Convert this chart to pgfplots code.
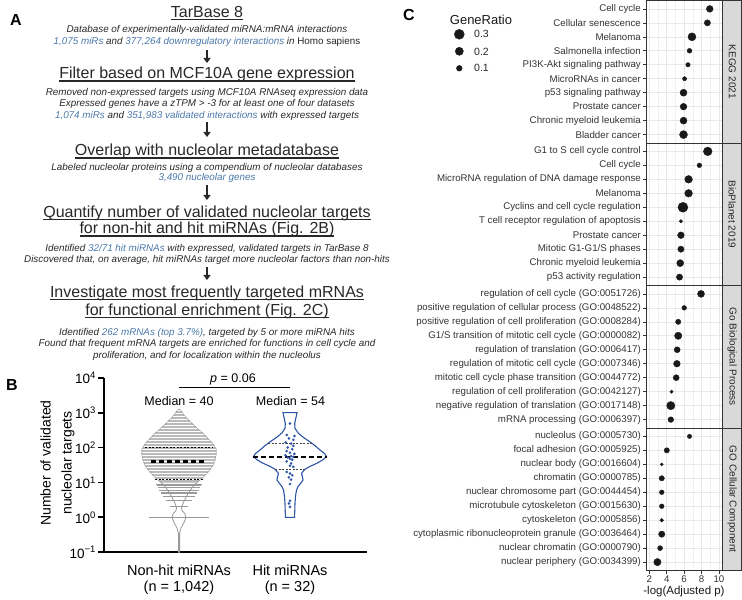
\documentclass[border=0pt]{standalone}
\usepackage{pgfplots}
\pgfplotsset{compat=1.18}
\usepackage{pgfplotstable}
\usepackage{fontspec}
\setmainfont{Liberation Sans}
\setsansfont{Liberation Sans}
\usetikzlibrary{arrows.meta,patterns}
\definecolor{blA}{RGB}{74,120,170}
\definecolor{txtA}{RGB}{40,40,40}
\definecolor{hitblue}{RGB}{45,85,165}
\newcommand\fs[1]{\fontsize{#1}{#1}\selectfont}
\newcommand\myul[1]{\leavevmode\setbox0=\hbox{#1}\rlap{\vrule width\wd0 height -1.6pt depth 2.8pt}\box0}
\newcommand\hd[2]{\node[anchor=base, text=txtA, font=\fs{16}, inner sep=0pt] at (207pt,{600pt-#1pt-5.8pt}) {\myul{#2}};}
\newcommand\tl[2]{\node[anchor=base, text=txtA, font=\fs{9.85}\itshape, inner sep=0pt] at (207pt,{600pt-#1pt-3.5pt}) {#2};}
\newcommand\arr[2]{\draw[line width=1.6pt, txtA, -{Triangle[width=7pt,length=5pt]}] (207pt,{600pt-#1pt}) -- (207pt,{600pt-#2pt});}
\newcommand\cfont{\fontsize{9.7}{10}\selectfont}

\pgfplotstableread{
y x r
1 8.94 0.14
2 8.67 0.116
3 6.90 0.193
4 6.62 0.07
5 6.44 0.058
6 6.05 0.051
7 5.93 0.148
8 5.93 0.136
9 5.93 0.148
10 5.93 0.193
}\kegg
\pgfplotstableread{
y x r
1 8.71 0.228
2 7.75 0.066
3 6.51 0.178
4 6.51 0.178
5 5.86 0.30
6 5.63 0.033
7 5.63 0.134
8 5.63 0.12
9 5.55 0.148
10 5.47 0.12
}\bioplanet
\pgfplotstableread{
y x r
1 7.94 0.148
2 6.01 0.066
3 5.32 0.085
4 5.32 0.161
5 5.20 0.109
6 5.17 0.134
7 5.09 0.109
8 4.55 0.033
9 4.47 0.208
10 4.47 0.097
}\gobp
\pgfplotstableread{
y x r
1 6.62 0.056
2 4.01 0.085
3 3.43 0.027
4 3.43 0.085
5 3.43 0.066
6 3.43 0.066
7 3.43 0.041
8 3.43 0.12
9 3.24 0.075
10 2.93 0.161
}\gocc

\pgfplotsset{
 dots/.style={scatter, only marks, mark=*,
   scatter/use mapped color={draw=black!90, fill=black!90},
   visualization depends on={9.1*sqrt(\thisrow{r}) \as \msz},
   scatter/@pre marker code/.append style={/tikz/mark size=\msz}},
 cpanel/.style={
  scale only axis, width=76.7pt, height=142.5pt, anchor=north west,
  xmin=1.62, xmax=10.43, ymin=0.4, ymax=10.6, y dir=reverse,
  xtick={2,4,6,8,10}, minor xtick={3,5,7,9}, ytick={1,...,10},
  xmajorgrids, xminorgrids, ymajorgrids,
  major grid style={black!9, line width=0.6pt},
  minor grid style={black!6, line width=0.35pt},
  axis line style={black!80, line width=0.7pt},
  tick align=outside, major tick length=3.5pt, minor tick length=0pt,
  tick style={black!80, line width=0.6pt},
  xtick pos=bottom, ytick pos=left,
  yticklabel style={font=\cfont, text=black!80, inner sep=1.5pt},
  xticklabel style={font=\cfont, text=black!80, inner sep=1.5pt},
 },
 notx/.style={xticklabels={}, xtick style={draw=none}},
}

\begin{document}
\begin{tikzpicture}
\useasboundingbox (0pt,0pt) rectangle (742pt,600pt);

% ---------------- Panel A ----------------
\node[font=\bfseries\fs{16}, anchor=center] at (16pt,580pt) {A};
\hd{11.7}{TarBase 8}
\tl{29.3}{Database of experimentally-validated miRNA:mRNA interactions}
\tl{41}{{\color{blA}1,075 miRs} and {\color{blA}377,264 downregulatory interactions} in \upshape Homo sapiens}
\arr{50}{63}
\hd{73}{Filter based on MCF10A gene expression}
\tl{91.7}{Removed non-expressed targets using MCF10A RNAseq expression data}
\tl{103}{Expressed genes have a zTPM > -3 for at least one of four datasets}
\tl{115}{{\color{blA}1,074 miRs} and {\color{blA}351,983 validated interactions} with expressed targets}
\arr{122}{137}
\hd{150}{Overlap with nucleolar metadatabase}
\tl{166.7}{Labeled nucleolar proteins using a compendium of nucleolar databases}
\tl{177.5}{{\color{blA}3,490 nucleolar genes}}
\arr{185}{200}
\hd{211.7}{Quantify number of validated nucleolar targets}
\hd{228}{for non-hit and hit miRNAs (Fig. 2B)}
\tl{248}{Identified {\color{blA}32/71 hit miRNAs} with expressed, validated targets in TarBase 8}
\tl{259}{Discovered that, on average, hit miRNAs target more nucleolar factors than non-hits}
\arr{267}{280}
\hd{291.7}{Investigate most frequently targeted mRNAs}
\hd{309.5}{for functional enrichment (Fig. 2C)}
\tl{331.7}{Identified {\color{blA}262 mRNAs (top 3.7\%)}, targeted by 5 or more miRNA hits}
\tl{343}{Found that frequent mRNA targets are enriched for functions in cell cycle and}
\tl{355}{proliferation, and for localization within the nucleolus}

% ---------------- Panel B ----------------
\node[font=\bfseries\fs{16}, anchor=center] at (12pt,215pt) {B};
\node[rotate=90, align=center, font=\fontsize{14}{21}\selectfont] at (57.5pt,137pt) {Number of validated\\nucleolar targets};
\begin{axis}[at={(104pt,47.7pt)}, anchor=south west, scale only axis, width=263pt, height=174.6pt,
  ymode=log, ymin=0.1, ymax=10000, xmin=0.3243, xmax=2.6937,
  axis x line=bottom, axis y line=left, axis line style={-, line width=1.8pt, black},
  ytick={0.1,1,10,100,1000,10000},
  yticklabels={10\textsuperscript{−1},10\textsuperscript{0},10\textsuperscript{1},10\textsuperscript{2},10\textsuperscript{3},10\textsuperscript{4}},
  yminorticks=false,
  tick align=outside, major tick length=6pt, ytick style={line width=1.8pt, black},
  xtick={1,2}, xticklabels={{Non-hit miRNAs\\(n = 1,042)},{Hit miRNAs\\(n = 32)}},
  xtick style={draw=none},
  xticklabel style={align=center, font=\fontsize{14.5}{16}\selectfont, yshift=-3pt},
  yticklabel style={font=\fs{13.5}, inner sep=2pt},
  clip=false, unbounded coords=jump]
% non-hit violin outline
\addplot[draw=black!40, fill=white, line width=0.8pt] coordinates {
(1.0054,0.1) (1.0054,0.3548) (1.018,0.5012) (1.045,0.7079) (1.063,1) (1.054,1.2589) (1.027,1.5849) (1.0225,1.9055) (1.036,2.5119) (1.0586,3.5481) (1.0856,5.0119) (1.117,7.0795) (1.162,10) (1.216,14.125) (1.261,19.953) (1.297,28.184) (1.32,39.811) (1.333,63.096) (1.333,89.125) (1.306,125.89) (1.261,177.83) (1.216,251.19) (1.162,354.81) (1.1126,501.19) (1.063,707.95) (1.0315,954.99) (1.018,1122) (1,1258.9)
(0.982,1122) (0.9685,954.99) (0.937,707.95) (0.8874,501.19) (0.838,354.81) (0.784,251.19) (0.739,177.83) (0.694,125.89) (0.667,89.125) (0.667,63.096) (0.68,39.811) (0.703,28.184) (0.739,19.953) (0.784,14.125) (0.838,10) (0.883,7.0795) (0.9144,5.0119) (0.9414,3.5481) (0.964,2.5119) (0.9775,1.9055) (0.973,1.5849) (0.946,1.2589) (0.937,1) (0.955,0.7079) (0.982,0.5012) (0.9946,0.3548) (0.9946,0.1)} -- cycle;
% dense beeswarm region
\addplot[draw=black!35, fill=black!27, line width=0.8pt] coordinates {
(1.162,10) (1.216,14.125) (1.261,19.953) (1.297,28.184) (1.32,39.811) (1.333,63.096) (1.333,89.125) (1.306,125.89) (1.261,177.83) (1.216,251.19) (1.162,354.81) (1.1126,501.19) (1.063,707.95) (1.0315,954.99) (1.018,1122) (1,1258.9)
(0.982,1122) (0.9685,954.99) (0.937,707.95) (0.8874,501.19) (0.838,354.81) (0.784,251.19) (0.739,177.83) (0.694,125.89) (0.667,89.125) (0.667,63.096) (0.68,39.811) (0.703,28.184) (0.739,19.953) (0.784,14.125) (0.838,10)} -- cycle;
\addplot[draw=none, pattern=horizontal lines, pattern color=white] coordinates {
(1.162,10) (1.216,14.125) (1.261,19.953) (1.297,28.184) (1.32,39.811) (1.333,63.096) (1.333,89.125) (1.306,125.89) (1.261,177.83) (1.216,251.19) (1.162,354.81) (1.1126,501.19) (1.063,707.95) (1.0315,954.99) (1.018,1122) (1,1258.9)
(0.982,1122) (0.9685,954.99) (0.937,707.95) (0.8874,501.19) (0.838,354.81) (0.784,251.19) (0.739,177.83) (0.694,125.89) (0.667,89.125) (0.667,63.096) (0.68,39.811) (0.703,28.184) (0.739,19.953) (0.784,14.125) (0.838,10)} -- cycle;
% rows of points at low counts
\addplot[draw=black!40, line width=1.1pt] coordinates {
(0.73,1) (1.27,1) (1,nan)
(0.919,2) (1.081,2) (1,nan)
(0.887,3) (1.113,3) (1,nan)
(0.856,4) (1.144,4) (1,nan)
(0.838,5) (1.162,5) (1,nan)
(0.82,6) (1.18,6) (1,nan)
(0.811,7) (1.189,7) (1,nan)
(0.802,8) (1.198,8) (1,nan)
(0.793,9) (1.207,9)};
% quartiles and median, non-hit
\addplot[black, line width=0.8pt, dash pattern=on 2pt off 1.5pt] coordinates {(0.694,101) (1.306,101)};
\addplot[black, line width=0.8pt, dash pattern=on 2pt off 1.5pt] coordinates {(0.784,12) (1.216,12)};
\addplot[black, line width=2.2pt, dash pattern=on 5pt off 3pt] coordinates {(0.748,40) (1.252,40)};
% hit violin
\addplot[draw=hitblue, fill=white, line width=1.1pt] coordinates {
(2.0405,1) (2.0432,1.585) (2.045,2.512) (2.0495,3.981) (2.0586,6.026) (2.072,7.586) (2.0946,9.333) (2.117,11.75) (2.1126,14.45) (2.1036,18.2) (2.135,23.99) (2.18,28.84) (2.243,35.48) (2.297,44.67) (2.329,54.95) (2.311,67.61) (2.27,85.11) (2.234,107.2) (2.198,131.8) (2.153,166) (2.1126,204.2) (2.072,263) (2.045,354.8) (2.0423,489.8) (2.0495,631) (2.0568,794.3) (2.063,1000)
(1.937,1000) (1.9432,794.3) (1.9505,631) (1.9577,489.8) (1.955,354.8) (1.928,263) (1.8874,204.2) (1.847,166) (1.802,131.8) (1.766,107.2) (1.73,85.11) (1.689,67.61) (1.671,54.95) (1.703,44.67) (1.757,35.48) (1.82,28.84) (1.865,23.99) (1.8964,18.2) (1.8874,14.45) (1.883,11.75) (1.9054,9.333) (1.928,7.586) (1.9414,6.026) (1.9505,3.981) (1.955,2.512) (1.9568,1.585) (1.9595,1)} -- cycle;
\addplot[black!75, line width=0.8pt, dash pattern=on 2pt off 1.5pt] coordinates {(1.802,131.8) (2.198,131.8)};
\addplot[black!75, line width=0.8pt, dash pattern=on 2pt off 1.5pt] coordinates {(1.865,24) (2.135,24)};
\addplot[black, line width=2.2pt, dash pattern=on 5pt off 3pt] coordinates {(1.671,54) (2.329,54)};
\addplot[only marks, mark=*, mark size=1.1pt, hitblue] coordinates {
(2.00,490) (1.97,229) (2.04,214) (1.99,182) (2.03,166) (1.96,141) (2.01,130) (2.03,112) (1.98,100) (2.02,89) (1.97,79) (2.0,71) (2.04,66) (1.96,60) (2.01,57) (2.03,54) (1.98,52) (2.0,48) (2.02,45) (1.97,40) (2.01,35) (2.0,30) (2.03,28) (1.97,20) (2.0,18) (2.02,16) (1.99,14) (2.01,12) (2.0,9) (2.0,3) (1.99,2.5) (2.0,2)};
\draw[line width=1.2pt] (axis cs:1,5164) -- (axis cs:2,5164);
\end{axis}
\node[font=\fs{12.5}] at (233pt,221pt) {\textit{p} = 0.06};
\node[font=\fs{12.5}] at (179pt,199.3pt) {Median = 40};
\node[font=\fs{12.5}] at (290.5pt,199.3pt) {Median = 54};

% ---------------- Panel C ----------------
\node[font=\bfseries\fs{16}, anchor=center] at (409pt,585pt) {C};
\node[font=\fs{13}, text=black!90] at (481pt,580pt) {GeneRatio};
\begin{axis}[at={(459.3pt,531.7pt)}, anchor=south west, scale only axis, width=1pt, height=34pt,
  xmin=0, xmax=1, ymin=0.1, ymax=0.3, hide axis, clip=false]
\addplot[dots] table[x=x,y=y]{
x y r
0 0.3 0.3
0 0.2 0.2
0 0.1 0.1
};
\end{axis}
\node[font=\fs{10.5}, text=black!85, anchor=west, inner sep=0pt] at (474pt,565.7pt) {0.3};
\node[font=\fs{10.5}, text=black!85, anchor=west, inner sep=0pt] at (474pt,548.3pt) {0.2};
\node[font=\fs{10.5}, text=black!85, anchor=west, inner sep=0pt] at (474pt,531.7pt) {0.1};

\begin{axis}[cpanel, notx, at={(646pt,599.5pt)},
  yticklabels={Cell cycle,Cellular senescence,Melanoma,Salmonella infection,PI3K-Akt signaling pathway,MicroRNAs in cancer,p53 signaling pathway,Prostate cancer,Chronic myeloid leukemia,Bladder cancer}]
\addplot[dots] table[x=x,y=y]{\kegg};
\end{axis}
\begin{axis}[cpanel, notx, at={(646pt,457pt)},
  yticklabels={G1 to S cell cycle control,Cell cycle,MicroRNA regulation of DNA damage response,Melanoma,Cyclins and cell cycle regulation,T cell receptor regulation of apoptosis,Prostate cancer,Mitotic G1-G1/S phases,Chronic myeloid leukemia,p53 activity regulation}]
\addplot[dots] table[x=x,y=y]{\bioplanet};
\end{axis}
\begin{axis}[cpanel, notx, at={(646pt,314.5pt)},
  yticklabels={regulation of cell cycle (GO:0051726),positive regulation of cellular process (GO:0048522),positive regulation of cell proliferation (GO:0008284),G1/S transition of mitotic cell cycle (GO:0000082),regulation of translation (GO:0006417),regulation of mitotic cell cycle (GO:0007346),mitotic cell cycle phase transition (GO:0044772),regulation of cell proliferation (GO:0042127),negative regulation of translation (GO:0017148),mRNA processing (GO:0006397)}]
\addplot[dots] table[x=x,y=y]{\gobp};
\end{axis}
\begin{axis}[cpanel, at={(646pt,172pt)}, xticklabels={2,4,6,8,10},
  yticklabels={nucleolus (GO:0005730),focal adhesion (GO:0005925),nuclear body (GO:0016604),chromatin (GO:0000785),nuclear chromosome part (GO:0044454),microtubule cytoskeleton (GO:0015630),cytoskeleton (GO:0005856),cytoplasmic ribonucleoprotein granule (GO:0036464),nuclear chromatin (GO:0000790),nuclear periphery (GO:0034399)}]
\addplot[dots] table[x=x,y=y]{\gocc};
\end{axis}
% strips
\foreach \t/\lab in {599.5/KEGG 2021, 457/BioPlanet 2019, 314.5/Go Biological Process, 172/GO Cellular Component}{
  \draw[fill=black!15, draw=black!80, line width=0.7pt] (722.7pt,\t pt) rectangle (741.6pt,\t pt-142.5pt);
  \node[rotate=-90, font=\fs{10}, text=black!85] at (732.2pt,\t pt-71.25pt) {\lab};
}
\node[font=\fs{11.5}, text=black!90] at (684pt,8.3pt) {-log(Adjusted p)};
\end{tikzpicture}
\end{document}
